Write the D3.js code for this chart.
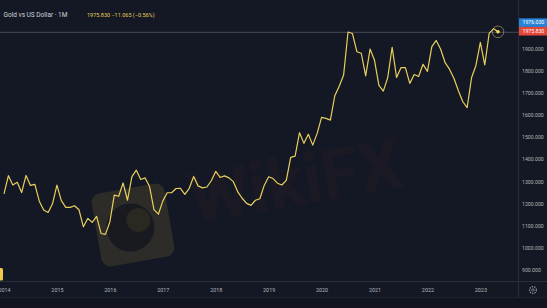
<!DOCTYPE html>
<html>
<head>
<meta charset="utf-8">
<script src="https://cdn.jsdelivr.net/npm/d3@7"></script>
<style>
    html, body { margin: 0; padding: 0; background: #141824; overflow: hidden; }
    svg text { font-family: Roboto, "Liberation Sans", sans-serif; }
</style>
</head>
<body>
<div id="chart"></div>
<script>
// monthly closes, gold vs US dollar
var years = ["2014", "2015", "2016", "2017", "2018", "2019", "2020", "2021", "2022", "2023"];
var closes2014 = [1244, 1326, 1284, 1296, 1250, 1327, 1282, 1287, 1211, 1171, 1160, 1199];
var closes2015 = [1283, 1213, 1183, 1183, 1190, 1172, 1095, 1133, 1115, 1142, 1065, 1061];
var closes2016 = [1117, 1238, 1233, 1293, 1215, 1322, 1351, 1309, 1316, 1277, 1173, 1152];
var closes2017 = [1211, 1249, 1249, 1268, 1269, 1242, 1269, 1322, 1280, 1271, 1275, 1303];
var closes2018 = [1345, 1318, 1325, 1316, 1299, 1253, 1224, 1201, 1192, 1215, 1222, 1282];
var closes2019 = [1321, 1313, 1292, 1284, 1305, 1409, 1414, 1520, 1472, 1513, 1464, 1517];
var closes2020 = [1589, 1585, 1577, 1687, 1730, 1781, 1975, 1968, 1886, 1879, 1777, 1898];
var closes2021 = [1847, 1734, 1708, 1769, 1906, 1770, 1814, 1814, 1743, 1783, 1774, 1829];
var closes2022 = [1797, 1909, 1937, 1897, 1837, 1807, 1766, 1711, 1661, 1633, 1768, 1824];
var closes2023 = [1928, 1826, 1969, 1990, 1975.83];

var priceTicks = [900, 1000, 1100, 1200, 1300, 1400, 1500, 1600, 1700, 1800, 1900];
var lastPrice = 1975.83;
var askPrice = 1976.03;
var titleText = "Gold vs US Dollar · 1M";
var quoteText = "1975.830 \u221211.065 (\u22120.56%)";

var width = 547;
var height = 308;
var plotRight = 518.5;
var axisY = 281.5;

// STEP 1: prepare data
var closesByYear = [closes2014, closes2015, closes2016, closes2017, closes2018,
    closes2019, closes2020, closes2021, closes2022, closes2023];
var rows = [];
closesByYear.forEach(function(list, i) {
    list.forEach(function(c, m) {
        rows.push({ idx: i * 12 + m, close: c });
    });
});

// STEP 2: svg
var svg = d3.select("#chart")
    .append("svg")
    .attr("width", width)
    .attr("height", height);

svg.append("rect")
    .attr("width", width)
    .attr("height", height)
    .attr("fill", "#141824");

svg.append("rect")
    .attr("y", 297)
    .attr("width", width)
    .attr("height", height - 297)
    .attr("fill", "#12151f");

// STEP 3: scales
var xScale = d3.scaleLinear()
    .domain([0, d3.max(rows, d => d.idx)])
    .range([4, 498]);

var yScale = d3.scaleLinear()
    .domain([900, 1900])
    .range([270, 48.6]);

// watermark
var mark = svg.append("g").attr("transform", "translate(133,225) rotate(-10)");
mark.append("rect")
    .attr("x", -37).attr("y", -37)
    .attr("width", 74).attr("height", 74)
    .attr("rx", 9)
    .attr("fill", "#d8bd4a")
    .attr("opacity", 0.13);
mark.append("circle")
    .attr("cx", -3).attr("cy", 2)
    .attr("r", 24)
    .attr("fill", "#12141d")
    .attr("opacity", 0.75);
mark.append("circle")
    .attr("cx", 6).attr("cy", -4)
    .attr("r", 12)
    .attr("fill", "#2f2c20")
    .attr("opacity", 0.8);

svg.append("text")
    .attr("transform", "translate(300,205) rotate(-10)")
    .attr("text-anchor", "middle")
    .attr("font-size", 70)
    .attr("font-weight", "bold")
    .attr("textLength", 215)
    .attr("lengthAdjust", "spacingAndGlyphs")
    .attr("fill", "#3a2226")
    .attr("opacity", 0.2)
    .text("WikiFX");

// STEP 4: frame lines
svg.append("line")
    .attr("x1", plotRight).attr("x2", plotRight)
    .attr("y1", 0).attr("y2", 297)
    .attr("stroke", "#2a2e3a").attr("stroke-width", 1);

svg.append("line")
    .attr("x1", 0).attr("x2", width)
    .attr("y1", axisY).attr("y2", axisY)
    .attr("stroke", "#2a2e3a").attr("stroke-width", 1);

svg.append("line")
    .attr("x1", 0).attr("x2", width)
    .attr("y1", 297.5).attr("y2", 297.5)
    .attr("stroke", "#1d212c").attr("stroke-width", 1);

// last price line
svg.append("line")
    .attr("x1", 0).attr("x2", plotRight)
    .attr("y1", yScale(lastPrice) + 0.5).attr("y2", yScale(lastPrice) + 0.5)
    .attr("stroke", "#5d616c").attr("stroke-width", 0.7);

// STEP 5: axes
var bottomAxis = d3.axisBottom(xScale)
    .tickValues(years.map((y, i) => i * 12))
    .tickFormat((d, i) => years[i])
    .tickSize(0)
    .tickPadding(6.6);

var xAxisGroup = svg.append("g")
    .attr("transform", `translate(0, ${axisY})`)
    .call(bottomAxis);
xAxisGroup.select(".domain").remove();
xAxisGroup.selectAll("text")
    .attr("font-size", 5.4)
    .attr("fill", "#b2b5be");

var rightAxis = d3.axisRight(yScale)
    .tickValues(priceTicks)
    .tickFormat(d3.format(".3f"))
    .tickSize(0)
    .tickPadding(3.5);

var yAxisGroup = svg.append("g")
    .attr("transform", `translate(${plotRight}, 0)`)
    .call(rightAxis);
yAxisGroup.select(".domain").remove();
yAxisGroup.selectAll("text")
    .attr("font-size", 5.2)
    .attr("fill", "#b2b5be");

// STEP 6: the line
var line = d3.line()
    .x(d => xScale(d.idx))
    .y(d => yScale(d.close));

svg.append("path")
    .datum(rows)
    .attr("d", line)
    .attr("fill", "none")
    .attr("stroke", "#e8cf5c")
    .attr("stroke-width", 1.2)
    .attr("stroke-linejoin", "round");

// last point marker
var last = rows[rows.length - 1];
svg.append("circle")
    .attr("cx", xScale(last.idx))
    .attr("cy", yScale(last.close))
    .attr("r", 5.8)
    .attr("fill", "none")
    .attr("stroke", "#cdbb70")
    .attr("stroke-width", 0.8)
    .attr("opacity", 0.7);
svg.append("circle")
    .attr("cx", xScale(last.idx))
    .attr("cy", yScale(last.close))
    .attr("r", 1.8)
    .attr("fill", "#f0d860");

// STEP 7: price labels on the axis
var boxH = 8.6;
var lastY = yScale(lastPrice) - 0.6;
var priceBoxes = [
    { value: askPrice, y: lastY - boxH * 1.5, color: "#2a84d8" },
    { value: lastPrice, y: lastY - boxH / 2, color: "#e2473c" }
];
var boxes = svg.append("g")
    .selectAll("g")
    .data(priceBoxes)
    .enter()
    .append("g");
boxes.append("rect")
    .attr("x", plotRight + 0.5)
    .attr("y", d => d.y)
    .attr("width", width - plotRight)
    .attr("height", boxH)
    .attr("fill", d => d.color);
boxes.append("text")
    .attr("x", plotRight + 4)
    .attr("y", d => d.y + boxH / 2)
    .attr("dy", "0.35em")
    .attr("font-size", 5.2)
    .attr("fill", "#ffffff")
    .text(d => d3.format(".3f")(d.value));

// STEP 8: header texts
svg.append("text")
    .attr("x", 3.5)
    .attr("y", 15)
    .attr("dy", "0.35em")
    .attr("font-size", 6.5)
    .attr("fill", "#d1d4dc")
    .text(titleText);

svg.append("text")
    .attr("x", 87)
    .attr("y", 15.5)
    .attr("dy", "0.35em")
    .attr("font-size", 5.5)
    .attr("fill", "#e8cf5c")
    .text(quoteText);

// bottom left badge and settings gear
svg.append("rect")
    .attr("x", -7).attr("y", 268)
    .attr("width", 10).attr("height", 12.5)
    .attr("rx", 1.5)
    .attr("fill", "#f2c94c");

svg.append("circle")
    .attr("cx", 533).attr("cy", 290)
    .attr("r", 3.4)
    .attr("fill", "none")
    .attr("stroke", "#8f939c")
    .attr("stroke-width", 1.3)
    .attr("stroke-dasharray", "1.3 1.1");
svg.append("circle")
    .attr("cx", 533).attr("cy", 290)
    .attr("r", 1.2)
    .attr("fill", "none")
    .attr("stroke", "#8f939c")
    .attr("stroke-width", 0.7);
</script>
</body>
</html>
